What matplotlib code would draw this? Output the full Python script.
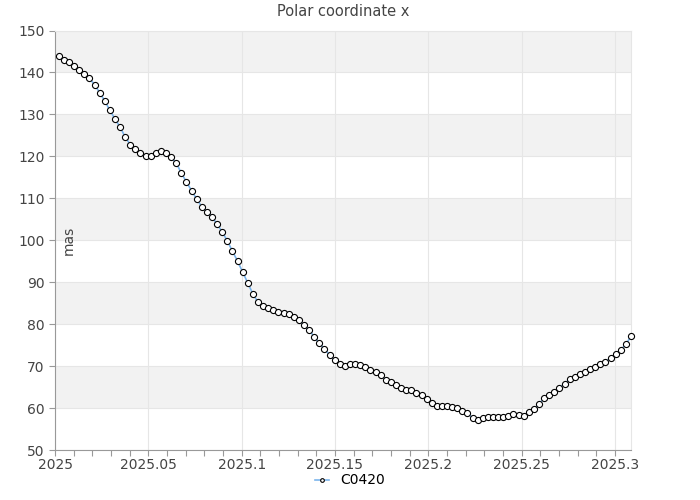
import numpy as np
import matplotlib
matplotlib.use('Agg')
import matplotlib.pyplot as plt
from matplotlib.ticker import MultipleLocator, FormatStrFormatter

plt.close('all')

# polar motion x (mas), one value per day from start of 2025
start_epoch = 2025.002
days_per_year = 365.25
pm_x = [144.0, 142.9, 142.45, 141.5, 140.5, 139.7, 138.6, 137.1, 135.2, 133.2,
        131.0, 128.9, 127.0, 124.6, 122.8, 121.7, 120.9, 120.1, 120.1, 120.9,
        121.2, 120.7, 119.8, 118.4, 116.0, 113.9, 111.8, 109.8, 108.0, 106.8,
        105.6, 103.8, 102.0, 99.8, 97.4, 95.0, 92.4, 89.8, 87.2, 85.2,
        84.4, 83.8, 83.3, 83.0, 82.7, 82.5, 81.7, 81.0, 79.8, 78.6,
        77.0, 75.4, 74.1, 72.7, 71.4, 70.5, 70.1, 70.5, 70.6, 70.2,
        69.7, 69.0, 68.5, 67.8, 66.8, 66.1, 65.5, 64.7, 64.4, 64.2,
        63.5, 63.1, 62.2, 61.1, 60.4, 60.4, 60.4, 60.3, 59.9, 59.3,
        58.8, 57.6, 57.2, 57.6, 57.9, 57.9, 57.9, 57.9, 58.1, 58.5,
        58.3, 58.2, 59.0, 59.8, 60.95, 62.3, 63.1, 63.9, 64.8, 65.8,
        66.9, 67.4, 68.0, 68.5, 69.2, 69.8, 70.5, 71.0, 71.9, 72.8,
        73.9, 75.2, 77.1]
epoch = start_epoch + np.arange(len(pm_x)) / days_per_year

series_name = 'C0420'
title = 'Polar coordinate x'
ylabel = 'mas'
ymin, ymax, ystep = 50, 150, 10

fig = plt.figure(figsize=(7, 5), dpi=100)
ax = fig.add_axes([0.0786, 0.1, 0.8228, 0.839])

# alternating bands
for lo in range(ymin, ymax, ystep):
    if ((lo - ymin) // ystep) % 2 == 1:
        ax.axhspan(lo, lo + ystep, color='#f2f2f2', zorder=0, lw=0)

ax.plot(epoch, pm_x, color='#7cb5ec', lw=1.2, marker='o', markersize=4.4,
        markerfacecolor='white', markeredgecolor='black', markeredgewidth=0.8,
        label=series_name, zorder=3, clip_on=False)

ax.set_xlim(2025.0, epoch[-1])
ax.set_ylim(ymin, ymax)
ax.yaxis.set_major_locator(MultipleLocator(10))
ax.xaxis.set_major_locator(MultipleLocator(0.05))
ax.xaxis.set_minor_locator(MultipleLocator(0.01))
ax.xaxis.set_major_formatter(FormatStrFormatter('%g'))
ax.grid(True, which='major', color='#e6e6e6', lw=0.8, zorder=1)
ax.set_axisbelow(True)

for s in ['top', 'right']:
    ax.spines[s].set_color('#e6e6e6')
for s in ['left', 'bottom']:
    ax.spines[s].set_color('#999999')
ax.tick_params(axis='both', which='both', colors='#999999', labelcolor='#444444',
               labelsize=10, length=4, width=0.8)
ax.tick_params(axis='x', which='minor', length=4)
ax.tick_params(axis='x', pad=2)

ax.text(0.012, 0.5, ylabel, rotation=90, transform=ax.transAxes,
        va='center', ha='left', fontsize=10, color='#444444')
fig.text(0.49, 0.976, title, ha='center', va='center', fontsize=10.5, color='#444444')

fig.legend(loc='lower center', bbox_to_anchor=(0.5, 0.0), frameon=False,
           handlelength=1.0, markerscale=0.6, fontsize=10)

fig.savefig('out.png', dpi=100)
